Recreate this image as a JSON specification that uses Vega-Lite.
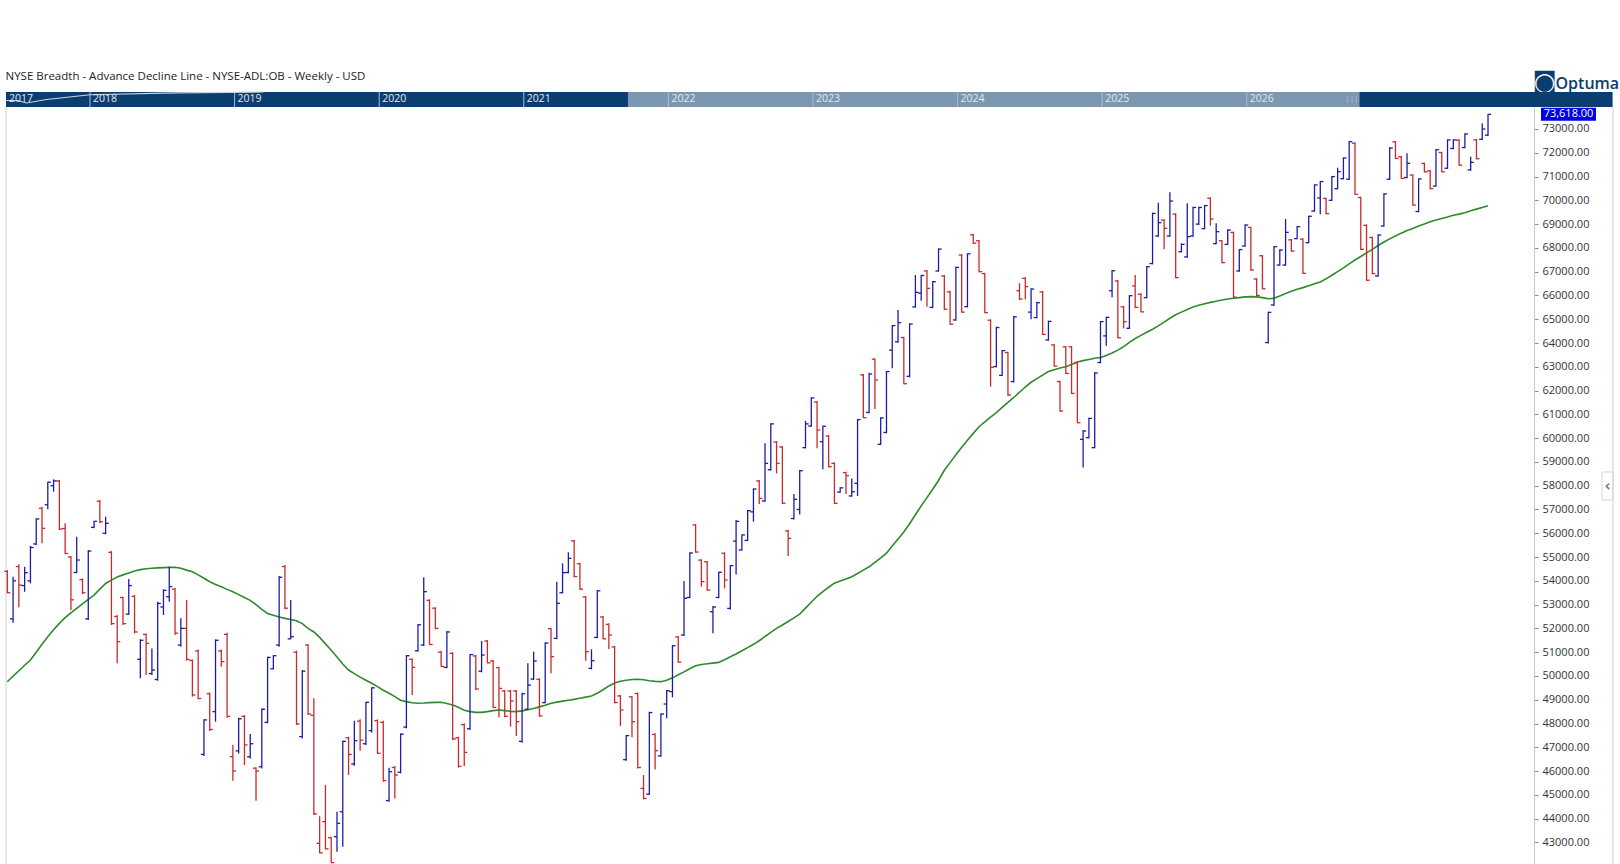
{
  "$schema": "https://vega.github.io/schema/vega-lite/v6.json",
  "width": 1528,
  "height": 757,
  "autosize": {"type": "none"},
  "padding": {"left": 6, "top": 107, "right": 86, "bottom": 0},
  "background": "white",
  "config": {"view": {"stroke": null}, "font": "Open Sans"},
  "datasets": {
    "nav": [
      {"part": "all", "from": 2017, "to": 2029},
      {"part": "view", "from": 2021.72, "to": 2026.78}
    ],
    "years": [
      {"year": 2017}, {"year": 2018}, {"year": 2019}, {"year": 2020}, {"year": 2021},
      {"year": 2022}, {"year": 2023}, {"year": 2024}, {"year": 2025}, {"year": 2026}
    ],
    "overview": [
      {"year": 2017.0, "level": 74198}, {"year": 2017.5, "level": 74198}, {"year": 2017.56, "level": 74093},
      {"year": 2017.7, "level": 74240}, {"year": 2018.0, "level": 74440}, {"year": 2018.6, "level": 74520},
      {"year": 2019.2, "level": 74556}
    ],
    "bars": [
      {"week":1,"open":54400,"high":54454,"low":53473,"close":53500,"ma":49757},
      {"week":2,"open":52400,"high":54174,"low":52239,"close":54000,"ma":49990},
      {"week":3,"open":54600,"high":54693,"low":52884,"close":53824,"ma":50220},
      {"week":4,"open":53800,"high":54594,"low":53543,"close":54342,"ma":50450},
      {"week":5,"open":54000,"high":55464,"low":53893,"close":55400,"ma":50670},
      {"week":6,"open":55550,"high":56627,"low":55506,"close":56600,"ma":51000},
      {"week":7,"open":57050,"high":57118,"low":55576,"close":56207,"ma":51330},
      {"week":8,"open":57200,"high":58170,"low":57006,"close":58150,"ma":51650},
      {"week":9,"open":58000,"high":58268,"low":57749,"close":58200,"ma":51940},
      {"week":10,"open":58200,"high":58240,"low":56137,"close":56180,"ma":52210},
      {"week":11,"open":56200,"high":56417,"low":55113,"close":55150,"ma":52450},
      {"week":12,"open":55000,"high":55043,"low":52772,"close":53200,"ma":52650},
      {"week":13,"open":54350,"high":55856,"low":54314,"close":54875,"ma":52840},
      {"week":14,"open":54050,"high":54104,"low":53445,"close":53500,"ma":53030},
      {"week":15,"open":52400,"high":55296,"low":52351,"close":55250,"ma":53220},
      {"week":16,"open":56250,"high":56529,"low":56207,"close":56500,"ma":53400},
      {"week":17,"open":57350,"high":57398,"low":56417,"close":56485,"ma":53650},
      {"week":18,"open":56000,"high":56697,"low":55954,"close":56417,"ma":53890},
      {"week":19,"open":55200,"high":55253,"low":52141,"close":52200,"ma":54030},
      {"week":20,"open":52500,"high":52562,"low":50529,"close":51440,"ma":54160},
      {"week":21,"open":53300,"high":53333,"low":52141,"close":52200,"ma":54250},
      {"week":22,"open":52600,"high":54076,"low":52562,"close":53800,"ma":54330},
      {"week":23,"open":53350,"high":53403,"low":51790,"close":51850,"ma":54410},
      {"week":24,"open":50700,"high":51538,"low":49898,"close":51500,"ma":54470},
      {"week":25,"open":51750,"high":51790,"low":50038,"close":51370,"ma":54510},
      {"week":26,"open":50100,"high":51159,"low":50038,"close":50248,"ma":54530},
      {"week":27,"open":49850,"high":53122,"low":49800,"close":53050,"ma":54545},
      {"week":28,"open":52900,"high":53641,"low":52562,"close":53600,"ma":54555},
      {"week":29,"open":53330,"high":54594,"low":53122,"close":53754,"ma":54565},
      {"week":30,"open":53650,"high":53711,"low":51720,"close":51800,"ma":54570},
      {"week":31,"open":51300,"high":52421,"low":51230,"close":52000,"ma":54530},
      {"week":32,"open":52000,"high":53193,"low":50641,"close":50700,"ma":54450},
      {"week":33,"open":50650,"high":50697,"low":49127,"close":49200,"ma":54380},
      {"week":34,"open":51050,"high":51117,"low":49015,"close":49050,"ma":54250},
      {"week":35,"open":46700,"high":48174,"low":46631,"close":48150,"ma":54110},
      {"week":36,"open":49250,"high":49309,"low":47683,"close":47750,"ma":53960},
      {"week":37,"open":48500,"high":51538,"low":48076,"close":51500,"ma":53850},
      {"week":38,"open":51050,"high":51117,"low":50388,"close":50600,"ma":53750},
      {"week":39,"open":51750,"high":51818,"low":48244,"close":48300,"ma":53640},
      {"week":40,"open":46606,"high":47097,"low":45597,"close":46003,"ma":53540},
      {"week":41,"open":46850,"high":48244,"low":46743,"close":48200,"ma":53420},
      {"week":42,"open":48300,"high":48358,"low":46253,"close":47100,"ma":53300},
      {"week":43,"open":46600,"high":47556,"low":46533,"close":47150,"ma":53180},
      {"week":44,"open":46120,"high":46157,"low":44756,"close":46000,"ma":53000},
      {"week":45,"open":46180,"high":48636,"low":46113,"close":48600,"ma":52800},
      {"week":46,"open":48050,"high":50809,"low":48005,"close":50780,"ma":52630},
      {"week":47,"open":50300,"high":50879,"low":50276,"close":50850,"ma":52550},
      {"week":48,"open":51300,"high":54202,"low":51230,"close":54150,"ma":52480},
      {"week":49,"open":54600,"high":54664,"low":52800,"close":52850,"ma":52420},
      {"week":50,"open":51560,"high":53193,"low":51538,"close":51650,"ma":52370},
      {"week":51,"open":51000,"high":51061,"low":47935,"close":47980,"ma":52320},
      {"week":52,"open":47450,"high":50248,"low":47374,"close":50200,"ma":52200},
      {"week":53,"open":51300,"high":51342,"low":48356,"close":48400,"ma":52000},
      {"week":54,"open":48340,"high":49060,"low":44150,"close":44200,"ma":51850},
      {"week":55,"open":42961,"high":44100,"low":42540,"close":42560,"ma":51620},
      {"week":56,"open":43872,"high":45414,"low":42708,"close":42730,"ma":51350},
      {"week":57,"open":43200,"high":43241,"low":42120,"close":42150,"ma":51080},
      {"week":58,"open":43241,"high":44293,"low":42610,"close":43802,"ma":50800},
      {"week":59,"open":44290,"high":47279,"low":42820,"close":47250,"ma":50500},
      {"week":60,"open":47400,"high":47445,"low":45833,"close":46700,"ma":50250},
      {"week":61,"open":46300,"high":48118,"low":46225,"close":47276,"ma":50100},
      {"week":62,"open":48100,"high":48174,"low":46856,"close":47300,"ma":49950},
      {"week":63,"open":47150,"high":48917,"low":47094,"close":48890,"ma":49820},
      {"week":64,"open":47700,"high":49520,"low":47627,"close":49500,"ma":49690},
      {"week":65,"open":48120,"high":48174,"low":46716,"close":46750,"ma":49550},
      {"week":66,"open":48050,"high":48118,"low":45552,"close":45600,"ma":49400},
      {"week":67,"open":44760,"high":46141,"low":44711,"close":45973,"ma":49270},
      {"week":68,"open":46150,"high":46211,"low":44851,"close":45833,"ma":49130},
      {"week":69,"open":45950,"high":47585,"low":45903,"close":47550,"ma":48980},
      {"week":70,"open":47850,"high":50880,"low":47796,"close":50850,"ma":48920},
      {"week":71,"open":50700,"high":50740,"low":49198,"close":50360,"ma":48870},
      {"week":72,"open":51060,"high":52184,"low":51020,"close":52150,"ma":48850},
      {"week":73,"open":51300,"high":54146,"low":51258,"close":53544,"ma":48860},
      {"week":74,"open":53180,"high":53221,"low":51300,"close":51320,"ma":48880},
      {"week":75,"open":52850,"high":52885,"low":51960,"close":52000,"ma":48890},
      {"week":76,"open":51000,"high":51062,"low":50389,"close":50400,"ma":48890},
      {"week":77,"open":50360,"high":51889,"low":50319,"close":51850,"ma":48840},
      {"week":78,"open":50950,"high":50992,"low":47304,"close":47350,"ma":48780},
      {"week":79,"open":47400,"high":47445,"low":46141,"close":46200,"ma":48680},
      {"week":80,"open":47950,"high":48006,"low":46211,"close":46786,"ma":48560},
      {"week":81,"open":47780,"high":50922,"low":47725,"close":50900,"ma":48500},
      {"week":82,"open":50840,"high":50880,"low":49408,"close":49450,"ma":48470},
      {"week":83,"open":50200,"high":51469,"low":50151,"close":50880,"ma":48470},
      {"week":84,"open":51470,"high":51511,"low":50530,"close":50550,"ma":48500},
      {"week":85,"open":50630,"high":50670,"low":48637,"close":48680,"ma":48540},
      {"week":86,"open":50350,"high":50389,"low":48258,"close":49478,"ma":48565},
      {"week":87,"open":49370,"high":49408,"low":48258,"close":48300,"ma":48540},
      {"week":88,"open":49370,"high":49408,"low":47865,"close":48945,"ma":48510},
      {"week":89,"open":49370,"high":49408,"low":47473,"close":48076,"ma":48500},
      {"week":90,"open":47250,"high":49296,"low":47192,"close":49250,"ma":48530},
      {"week":91,"open":48600,"high":50529,"low":48566,"close":49618,"ma":48580},
      {"week":92,"open":49870,"high":51020,"low":49828,"close":50628,"ma":48630},
      {"week":93,"open":49860,"high":49898,"low":48286,"close":48320,"ma":48700},
      {"week":94,"open":48880,"high":51413,"low":48847,"close":51380,"ma":48770},
      {"week":95,"open":51990,"high":52030,"low":50109,"close":50810,"ma":48850},
      {"week":96,"open":51580,"high":53964,"low":51539,"close":53053,"ma":48900},
      {"week":97,"open":53500,"high":54735,"low":53473,"close":54343,"ma":48940},
      {"week":98,"open":54350,"high":55198,"low":54315,"close":54945,"ma":48980},
      {"week":99,"open":55680,"high":55717,"low":54147,"close":54180,"ma":49015},
      {"week":100,"open":54720,"high":54763,"low":53613,"close":53650,"ma":49060},
      {"week":101,"open":53320,"high":53361,"low":50641,"close":51020,"ma":49110},
      {"week":102,"open":50320,"high":51118,"low":50277,"close":50640,"ma":49160},
      {"week":103,"open":51620,"high":53613,"low":51581,"close":53580,"ma":49270},
      {"week":104,"open":52480,"high":52520,"low":51539,"close":51560,"ma":49420},
      {"week":105,"open":52170,"high":52212,"low":51132,"close":51721,"ma":49580},
      {"week":106,"open":51220,"high":51258,"low":48847,"close":48880,"ma":49700},
      {"week":107,"open":49160,"high":49198,"low":47894,"close":48567,"ma":49780},
      {"week":108,"open":46480,"high":47515,"low":46435,"close":47490,"ma":49820},
      {"week":109,"open":49120,"high":49156,"low":47417,"close":48076,"ma":49850},
      {"week":110,"open":49260,"high":49300,"low":46113,"close":46150,"ma":49860},
      {"week":111,"open":45270,"high":45832,"low":44809,"close":44850,"ma":49840},
      {"week":112,"open":45030,"high":48496,"low":44991,"close":48460,"ma":49800},
      {"week":113,"open":47540,"high":47585,"low":46071,"close":46856,"ma":49770},
      {"week":114,"open":46640,"high":48426,"low":46604,"close":48400,"ma":49760},
      {"week":115,"open":48820,"high":49408,"low":48216,"close":49380,"ma":49820},
      {"week":116,"open":49340,"high":51300,"low":49100,"close":51270,"ma":49920},
      {"week":117,"open":51640,"high":51679,"low":50557,"close":50580,"ma":50050},
      {"week":118,"open":51720,"high":53992,"low":51679,"close":53264,"ma":50170},
      {"week":119,"open":53300,"high":55198,"low":53264,"close":55170,"ma":50300},
      {"week":120,"open":56350,"high":56390,"low":55184,"close":55210,"ma":50430},
      {"week":121,"open":54870,"high":54904,"low":53754,"close":53964,"ma":50480},
      {"week":122,"open":54800,"high":54834,"low":53585,"close":53610,"ma":50510},
      {"week":123,"open":52700,"high":52941,"low":51791,"close":52900,"ma":50540},
      {"week":124,"open":53300,"high":54385,"low":53264,"close":54360,"ma":50570},
      {"week":125,"open":55160,"high":55196,"low":53682,"close":54032,"ma":50680},
      {"week":126,"open":52840,"high":54663,"low":52798,"close":54640,"ma":50810},
      {"week":127,"open":55672,"high":56556,"low":54271,"close":56500,"ma":50920},
      {"week":128,"open":55300,"high":55953,"low":55266,"close":55930,"ma":51060},
      {"week":129,"open":55700,"high":56976,"low":55672,"close":56950,"ma":51190},
      {"week":130,"open":56900,"high":57888,"low":56486,"close":57860,"ma":51330},
      {"week":131,"open":58200,"high":58238,"low":57229,"close":57467,"ma":51480},
      {"week":132,"open":57360,"high":59780,"low":57327,"close":58939,"ma":51660},
      {"week":133,"open":58670,"high":60622,"low":58631,"close":60600,"ma":51830},
      {"week":134,"open":59840,"high":59878,"low":58519,"close":58939,"ma":52000},
      {"week":135,"open":59630,"high":59668,"low":57229,"close":57260,"ma":52140},
      {"week":136,"open":56100,"high":56135,"low":55042,"close":55785,"ma":52290},
      {"week":137,"open":56620,"high":57650,"low":56584,"close":57425,"ma":52440},
      {"week":138,"open":57000,"high":58659,"low":56794,"close":58630,"ma":52600},
      {"week":139,"open":59600,"high":60734,"low":59570,"close":60600,"ma":52850},
      {"week":140,"open":60510,"high":61715,"low":60481,"close":61690,"ma":53100},
      {"week":141,"open":61520,"high":61561,"low":59570,"close":60341,"ma":53350},
      {"week":142,"open":59850,"high":60523,"low":58687,"close":60500,"ma":53550},
      {"week":143,"open":60090,"high":60131,"low":58771,"close":58800,"ma":53730},
      {"week":144,"open":58940,"high":58981,"low":57229,"close":57260,"ma":53900},
      {"week":145,"open":57730,"high":57930,"low":57705,"close":57910,"ma":53990},
      {"week":146,"open":58550,"high":58589,"low":57649,"close":58420,"ma":54080},
      {"week":147,"open":57570,"high":58308,"low":57537,"close":57747,"ma":54170},
      {"week":148,"open":58100,"high":60804,"low":57565,"close":60780,"ma":54310},
      {"week":149,"open":62660,"high":62697,"low":60832,"close":60860,"ma":54450},
      {"week":150,"open":61080,"high":62753,"low":61042,"close":62700,"ma":54590},
      {"week":151,"open":63320,"high":63356,"low":61224,"close":62444,"ma":54780},
      {"week":152,"open":59740,"high":60874,"low":59710,"close":60850,"ma":54970},
      {"week":153,"open":60240,"high":62823,"low":60201,"close":62800,"ma":55160},
      {"week":154,"open":63700,"high":64757,"low":62935,"close":64730,"ma":55460},
      {"week":155,"open":64050,"high":65388,"low":64014,"close":64855,"ma":55760},
      {"week":156,"open":64230,"high":64266,"low":62261,"close":62290,"ma":56050},
      {"week":157,"open":62600,"high":64827,"low":62556,"close":64800,"ma":56400},
      {"week":158,"open":65520,"high":66860,"low":65486,"close":66131,"ma":56780},
      {"week":159,"open":66100,"high":66860,"low":65780,"close":66840,"ma":57150},
      {"week":160,"open":67030,"high":67070,"low":65528,"close":66299,"ma":57500},
      {"week":161,"open":65500,"high":66607,"low":65458,"close":66580,"ma":57850},
      {"week":162,"open":67030,"high":67981,"low":66999,"close":67950,"ma":58220},
      {"week":163,"open":66820,"high":66860,"low":65388,"close":65420,"ma":58650},
      {"week":164,"open":66150,"high":66187,"low":64757,"close":64790,"ma":58970},
      {"week":165,"open":64970,"high":67210,"low":64939,"close":67180,"ma":59300},
      {"week":166,"open":67700,"high":67743,"low":65275,"close":65300,"ma":59620},
      {"week":167,"open":65530,"high":67771,"low":65500,"close":67750,"ma":59910},
      {"week":168,"open":68550,"high":68584,"low":68164,"close":68200,"ma":60200},
      {"week":169,"open":68300,"high":68332,"low":66972,"close":67000,"ma":60480},
      {"week":170,"open":66920,"high":66958,"low":65247,"close":65280,"ma":60680},
      {"week":171,"open":64960,"high":64995,"low":62163,"close":62976,"ma":60880},
      {"week":172,"open":63010,"high":64687,"low":62976,"close":64650,"ma":61070},
      {"week":173,"open":62640,"high":63705,"low":62612,"close":63680,"ma":61290},
      {"week":174,"open":63600,"high":63635,"low":61785,"close":61810,"ma":61500},
      {"week":175,"open":62380,"high":65135,"low":62345,"close":65100,"ma":61710},
      {"week":176,"open":66200,"high":66509,"low":65808,"close":65850,"ma":61930},
      {"week":177,"open":66720,"high":66761,"low":65836,"close":66369,"ma":62150},
      {"week":178,"open":65300,"high":66299,"low":64995,"close":66270,"ma":62350},
      {"week":179,"open":65070,"high":65738,"low":65037,"close":65696,"ma":62500},
      {"week":180,"open":66150,"high":66187,"low":64336,"close":64360,"ma":62650},
      {"week":181,"open":64130,"high":64939,"low":64098,"close":64910,"ma":62800},
      {"week":182,"open":63920,"high":63957,"low":63004,"close":63030,"ma":62880},
      {"week":183,"open":62380,"high":62415,"low":61112,"close":61140,"ma":62950},
      {"week":184,"open":63840,"high":63873,"low":62696,"close":62720,"ma":63000},
      {"week":185,"open":63840,"high":63873,"low":61855,"close":61880,"ma":63100},
      {"week":186,"open":63180,"high":63215,"low":60621,"close":60650,"ma":63200},
      {"week":187,"open":59950,"high":60341,"low":58770,"close":60300,"ma":63260},
      {"week":188,"open":60020,"high":60860,"low":59990,"close":60830,"ma":63310},
      {"week":189,"open":59600,"high":62766,"low":59570,"close":62740,"ma":63360},
      {"week":190,"open":63180,"high":64925,"low":63145,"close":64900,"ma":63390},
      {"week":191,"open":64300,"high":65107,"low":63887,"close":65080,"ma":63480},
      {"week":192,"open":66200,"high":67070,"low":65920,"close":67040,"ma":63580},
      {"week":193,"open":66610,"high":66650,"low":64196,"close":64220,"ma":63700},
      {"week":194,"open":65520,"high":65556,"low":64617,"close":64897,"ma":63850},
      {"week":195,"open":64620,"high":66019,"low":64589,"close":65990,"ma":64030},
      {"week":196,"open":66400,"high":66860,"low":65458,"close":65500,"ma":64190},
      {"week":197,"open":66050,"high":66089,"low":65289,"close":65310,"ma":64320},
      {"week":198,"open":65910,"high":67238,"low":65878,"close":67210,"ma":64450},
      {"week":199,"open":67340,"high":69481,"low":67308,"close":69450,"ma":64580},
      {"week":200,"open":68500,"high":69902,"low":68472,"close":69061,"ma":64720},
      {"week":201,"open":69170,"high":69201,"low":67939,"close":68823,"ma":64880},
      {"week":202,"open":68500,"high":70336,"low":68472,"close":69972,"ma":65040},
      {"week":203,"open":69420,"high":69453,"low":66719,"close":66750,"ma":65190},
      {"week":204,"open":67840,"high":68191,"low":67813,"close":68150,"ma":65300},
      {"week":205,"open":67620,"high":69874,"low":67589,"close":68472,"ma":65410},
      {"week":206,"open":68500,"high":69733,"low":68472,"close":69700,"ma":65510},
      {"week":207,"open":69000,"high":69733,"low":68962,"close":69700,"ma":65590},
      {"week":208,"open":68810,"high":69804,"low":68780,"close":69780,"ma":65650},
      {"week":209,"open":70090,"high":70126,"low":68934,"close":69215,"ma":65710},
      {"week":210,"open":68180,"high":69032,"low":68149,"close":68682,"ma":65760},
      {"week":211,"open":68300,"high":68331,"low":67350,"close":67380,"ma":65810},
      {"week":212,"open":68150,"high":68780,"low":68121,"close":68750,"ma":65850},
      {"week":213,"open":68650,"high":68682,"low":65906,"close":65930,"ma":65880},
      {"week":214,"open":67030,"high":67953,"low":67000,"close":67930,"ma":65910},
      {"week":215,"open":68080,"high":68990,"low":68051,"close":68960,"ma":65940},
      {"week":216,"open":68860,"high":68892,"low":67042,"close":67070,"ma":65950},
      {"week":217,"open":66690,"high":66719,"low":65976,"close":66000,"ma":65940},
      {"week":218,"open":67670,"high":67700,"low":66256,"close":66280,"ma":65910},
      {"week":219,"open":64020,"high":65317,"low":63985,"close":65290,"ma":65860},
      {"week":220,"open":65600,"high":68079,"low":65570,"close":68050,"ma":65880},
      {"week":221,"open":67280,"high":67939,"low":67252,"close":67910,"ma":65980},
      {"week":222,"open":67280,"high":69215,"low":67252,"close":68654,"ma":66080},
      {"week":223,"open":68340,"high":68373,"low":67841,"close":67870,"ma":66180},
      {"week":224,"open":68390,"high":68920,"low":68359,"close":68890,"ma":66260},
      {"week":225,"open":68370,"high":68401,"low":66901,"close":66930,"ma":66330},
      {"week":226,"open":68220,"high":69355,"low":68191,"close":69330,"ma":66410},
      {"week":227,"open":69550,"high":70673,"low":69523,"close":70650,"ma":66490},
      {"week":228,"open":70100,"high":70813,"low":69411,"close":70790,"ma":66570},
      {"week":229,"open":70080,"high":70112,"low":69411,"close":69440,"ma":66700},
      {"week":230,"open":70000,"high":71023,"low":69972,"close":71000,"ma":66850},
      {"week":231,"open":70490,"high":71374,"low":70462,"close":71205,"ma":67000},
      {"week":232,"open":70910,"high":71808,"low":70883,"close":71780,"ma":67160},
      {"week":233,"open":70890,"high":72495,"low":70855,"close":72470,"ma":67330},
      {"week":234,"open":72400,"high":72439,"low":70224,"close":70250,"ma":67490},
      {"week":235,"open":70120,"high":70154,"low":67911,"close":67940,"ma":67640},
      {"week":236,"open":68950,"high":68990,"low":66607,"close":66640,"ma":67790},
      {"week":237,"open":68440,"high":68472,"low":66887,"close":66920,"ma":67940},
      {"week":238,"open":66820,"high":68570,"low":66789,"close":68540,"ma":68100},
      {"week":239,"open":68920,"high":70294,"low":68892,"close":70270,"ma":68250},
      {"week":240,"open":70890,"high":72229,"low":70855,"close":72200,"ma":68380},
      {"week":241,"open":72460,"high":72495,"low":71738,"close":71760,"ma":68500},
      {"week":242,"open":71830,"high":71864,"low":70897,"close":70920,"ma":68620},
      {"week":243,"open":70960,"high":71977,"low":70925,"close":71556,"ma":68730},
      {"week":244,"open":71060,"high":71093,"low":69775,"close":69800,"ma":68820},
      {"week":245,"open":69530,"high":70925,"low":69495,"close":70900,"ma":68920},
      {"week":246,"open":71550,"high":71584,"low":71177,"close":71200,"ma":69010},
      {"week":247,"open":71240,"high":71276,"low":70462,"close":70490,"ma":69100},
      {"week":248,"open":70600,"high":72159,"low":70574,"close":72130,"ma":69170},
      {"week":249,"open":72010,"high":72047,"low":71177,"close":71200,"ma":69240},
      {"week":250,"open":71350,"high":72565,"low":71318,"close":72540,"ma":69300},
      {"week":251,"open":72180,"high":72565,"low":72145,"close":72540,"ma":69370},
      {"week":252,"open":72530,"high":72565,"low":71458,"close":71480,"ma":69420},
      {"week":253,"open":72220,"high":72818,"low":72187,"close":72790,"ma":69480},
      {"week":254,"open":71280,"high":71835,"low":71247,"close":71597,"ma":69560},
      {"week":255,"open":72540,"high":72578,"low":71723,"close":71750,"ma":69630},
      {"week":256,"open":72570,"high":73237,"low":72536,"close":73000,"ma":69700},
      {"week":257,"open":72740,"high":73630,"low":72705,"close":73618,"ma":69774}
    ]
  },
  "resolve": {"scale": {"x": "independent"}, "axis": {"y": "independent"}},
  "layer": [
    {
      "encoding": {
        "x": {
          "type": "quantitative",
          "scale": {"domain": [2017.419, 2028.53], "range": [0, 1606.6], "clamp": true, "nice": false, "zero": false},
          "axis": {
            "orient": "top", "domain": false, "ticks": false, "labels": false, "grid": false,
            "title": "NYSE Breadth - Advance Decline Line - NYSE-ADL:OB - Weekly - USD",
            "titleX": -1, "titleY": -31, "titleAlign": "left", "titleBaseline": "middle", "titleAngle": 0,
            "titleFont": "Open Sans", "titleFontSize": 11.5, "titleFontWeight": "normal", "titleColor": "#222222"
          }
        },
        "y": {"type": "quantitative", "scale": {"domain": [42092, 73925], "nice": false, "zero": false}, "axis": null}
      },
      "layer": [
        {
          "data": {"name": "nav"},
          "mark": {"type": "rect"},
          "encoding": {
            "x": {"field": "from"},
            "x2": {"field": "to"},
            "y": {"datum": 73925},
            "y2": {"datum": 74556},
            "color": {"field": "part", "type": "nominal", "scale": {"domain": ["all", "view"], "range": ["#0b3d6e", "#7b97b1"]}, "legend": null}
          }
        },
        {
          "data": {"name": "years"},
          "transform": [{"filter": "datum.year > 2017"}],
          "mark": {"type": "rule", "color": "#a9bccf", "strokeWidth": 1},
          "encoding": {
            "x": {"field": "year"},
            "y": {"datum": 73925},
            "y2": {"datum": 74556}
          }
        },
        {
          "data": {"name": "overview"},
          "mark": {"type": "line", "color": "#c7d4e1", "strokeWidth": 1.2},
          "encoding": {
            "x": {"field": "year"},
            "y": {"field": "level"}
          }
        },
        {
          "data": {"name": "years"},
          "mark": {"type": "text", "align": "left", "baseline": "middle", "dx": 3, "fontSize": 10.5, "font": "Open Sans", "color": "#e2e9f0"},
          "encoding": {
            "x": {"field": "year"},
            "y": {"datum": 74241},
            "text": {"field": "year", "type": "nominal"}
          }
        },
        {
          "data": {"name": "nav"},
          "transform": [{"filter": "datum.part === 'view'"}],
          "mark": {"type": "text", "align": "right", "baseline": "middle", "dx": -1, "fontSize": 8, "color": "#b8c7d6", "text": "|||"},
          "encoding": {
            "x": {"field": "to"},
            "y": {"datum": 74241}
          }
        },
        {
          "data": {"values": [{}]},
          "mark": {"type": "tick", "orient": "vertical", "size": 28, "thickness": 11, "color": "white", "stroke": "#d4d4d4", "strokeWidth": 1, "opacity": 1},
          "encoding": {
            "x": {"datum": 2028.495},
            "y": {"datum": 57988}
          }
        },
        {
          "data": {"values": [{}]},
          "mark": {"type": "text", "text": "‹", "font": "DejaVu Sans", "fontSize": 15, "fontWeight": "bold", "color": "#777777", "align": "center", "baseline": "middle"},
          "encoding": {
            "x": {"datum": 2028.495},
            "y": {"datum": 57988}
          }
        }
      ]
    },
    {
      "data": {"name": "bars"},
      "encoding": {
        "x": {
          "field": "week", "type": "quantitative",
          "scale": {"domain": [0.775, 264.95], "nice": false, "zero": false},
          "axis": {
            "orient": "bottom", "domain": false, "ticks": false, "labels": false, "grid": false,
            "title": "◙", "titleX": 1526, "titleY": -783, "titleAlign": "left", "titleBaseline": "middle", "titleAngle": 0,
            "titleFont": "DejaVu Sans", "titleFontSize": 25, "titleFontWeight": "normal", "titleColor": "#0b3d6e"
          }
        },
        "y": {
          "type": "quantitative",
          "scale": {"domain": [42092, 73925], "nice": false, "zero": false},
          "axis": {
            "orient": "right", "grid": false,
            "values": [43000,44000,45000,46000,47000,48000,49000,50000,51000,52000,53000,54000,55000,56000,57000,58000,59000,60000,61000,62000,63000,64000,65000,66000,67000,68000,69000,70000,71000,72000,73000],
            "tickCount": 32,
            "format": ".2f", "labelFont": "Open Sans", "labelFontSize": 11, "labelColor": "#333333",
            "labelPadding": 4, "labelOverlap": false, "labelSeparation": 0, "labelFlush": false,
            "tickColor": "#8a8a8a", "tickSize": 4, "domainColor": "#c8c8c8",
            "title": "Optuma", "titleX": 21, "titleY": -24, "titleAlign": "left", "titleBaseline": "middle", "titleAngle": 0,
            "titleFont": "Open Sans", "titleFontSize": 16, "titleFontWeight": 600, "titleColor": "#0b3d6e"
          }
        }
      },
      "layer": [
        {
          "data": {"values": [{"edge": 0.775}, {"edge": 278.6}]},
          "mark": {"type": "rule", "color": "#d0d0d0", "strokeWidth": 1},
          "encoding": {"x": {"field": "edge"}, "y": null}
        },
        {
          "mark": {"type": "line", "color": "#2e8a2e", "strokeWidth": 1.6},
          "encoding": {"y": {"field": "ma"}}
        },
        {
          "mark": {"type": "rule", "strokeWidth": 1.3},
          "encoding": {
            "y": {"field": "low"},
            "y2": {"field": "high"},
            "color": {"condition": {"test": "datum.close >= datum.open", "value": "#1c1ca8"}, "value": "#c92a2a"}
          }
        },
        {
          "mark": {"type": "tick", "orient": "horizontal", "size": 3, "thickness": 1.3, "xOffset": -1.6, "opacity": 1},
          "encoding": {
            "y": {"field": "open"},
            "color": {"condition": {"test": "datum.close >= datum.open", "value": "#1c1ca8"}, "value": "#c92a2a"}
          }
        },
        {
          "mark": {"type": "tick", "orient": "horizontal", "size": 3, "thickness": 1.3, "xOffset": 1.6, "opacity": 1},
          "encoding": {
            "y": {"field": "close"},
            "color": {"condition": {"test": "datum.close >= datum.open", "value": "#1c1ca8"}, "value": "#c92a2a"}
          }
        },
        {
          "transform": [{"filter": "datum.week === 257"}],
          "mark": {"type": "tick", "orient": "horizontal", "size": 55, "thickness": 13, "color": "#0000e6", "opacity": 1},
          "encoding": {"x": {"value": 1562.5}, "y": {"field": "close"}}
        },
        {
          "transform": [{"filter": "datum.week === 257"}],
          "mark": {"type": "text", "align": "center", "baseline": "middle", "font": "Open Sans", "fontSize": 11, "color": "white"},
          "encoding": {
            "x": {"value": 1562.5},
            "y": {"field": "close"},
            "text": {"field": "close", "type": "quantitative", "format": ",.2f"}
          }
        }
      ]
    }
  ]
}
